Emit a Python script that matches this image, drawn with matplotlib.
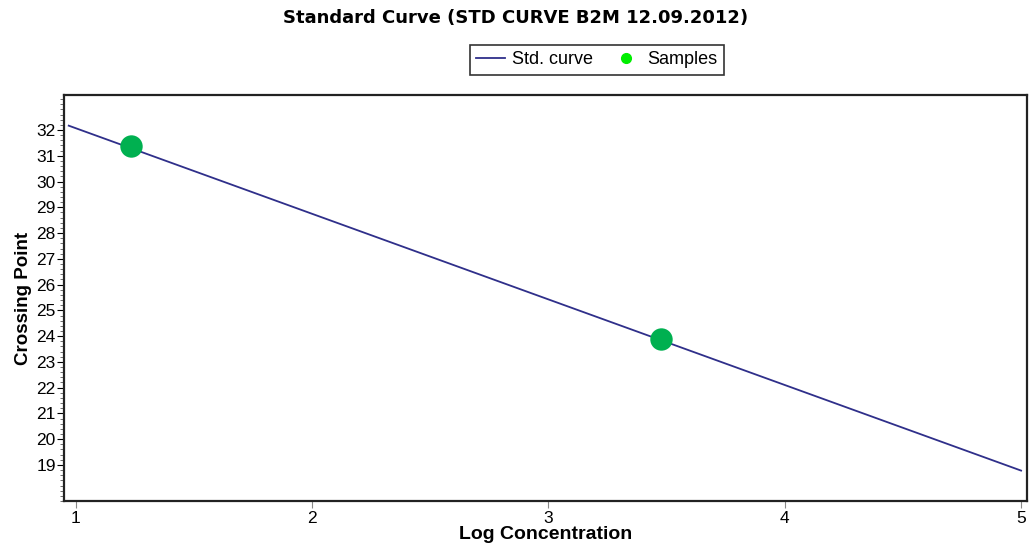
import matplotlib
matplotlib.use("Agg")
import matplotlib.pyplot as plt
from matplotlib.ticker import MultipleLocator
from matplotlib.lines import Line2D

# standard curve end points (log concentration, crossing point)
curve_x = [0.97, 5.0]
curve_y = [32.17, 18.78]

# sample measurements
sample_x = [1.233, 3.475]
sample_y = [31.38, 23.87]

x_ticks = [1, 2, 3, 4, 5]
y_ticks = list(range(19, 33))

title = "Standard Curve (STD CURVE B2M 12.09.2012)"

plt.rcParams['font.family'] = ['Liberation Sans', 'DejaVu Sans']

fig = plt.figure(figsize=(10.3, 5.54), dpi=100)
ax = fig.add_axes([64 / 1030, 1 - 501 / 554, (1027 - 64) / 1030, (501 - 95) / 554])

ax.plot(curve_x, curve_y, color='#2f2f8a', lw=1.3, zorder=2)
ax.scatter(sample_x, sample_y, s=260, color='#00b050', zorder=3, linewidths=0)

ax.set_xlim(0.95, 5.025)
ax.set_ylim(17.6, 33.36)
ax.set_xticks(x_ticks)
ax.set_yticks(y_ticks)
ax.yaxis.set_minor_locator(MultipleLocator(0.2))
ax.tick_params(axis='both', labelsize=12.5, colors='black', direction='out')
ax.tick_params(axis='y', which='major', length=5, width=0.8, pad=1)
ax.tick_params(axis='y', which='minor', length=3, width=0.6, color='#555555')
ax.tick_params(axis='x', which='major', length=5, width=0.8, color='#888888', pad=2)

for sp in ax.spines.values():
    sp.set_linewidth(1.6)
    sp.set_color('#222222')

ax.set_xlabel("Log Concentration", fontsize=14, fontweight='bold', labelpad=0)
ax.set_ylabel("Crossing Point", fontsize=13.5, fontweight='bold', labelpad=3)

fig.text(516 / 1030, 1 - 18 / 554, title, ha='center', va='center',
         fontsize=13, fontweight='bold', family=['DejaVu Sans'])

handles = [
    Line2D([], [], color='#2f2f8a', lw=1.3),
    Line2D([], [], marker='o', ls='none', color='#00ee00', markersize=7),
]
leg = fig.legend(handles, ["Std. curve", "Samples"], loc='center',
                 bbox_to_anchor=(597 / 1030, 1 - 60 / 554), ncol=2,
                 fontsize=13, frameon=True, fancybox=False,
                 handlelength=1.6, handletextpad=0.4, columnspacing=1.0,
                 borderpad=0.35, edgecolor='black')
leg.get_frame().set_linewidth(1.2)

fig.savefig("out.png", dpi=100, facecolor='white')
